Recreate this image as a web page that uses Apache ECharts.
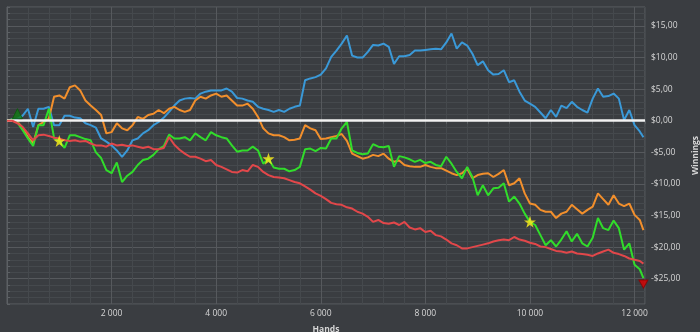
<!DOCTYPE html>
<html>
<head>
<meta charset="utf-8">
<script src="https://cdn.jsdelivr.net/npm/echarts@6/dist/echarts.min.js"></script>
<style>
html,body{margin:0;padding:0;background:#3a3d41;}
#chart{width:700px;height:332px;}
</style>
</head>
<body>
<div id="chart"></div>
<script>
// Hands (x values)
var hands = [0,100,200,300,400,500,600,700,800,900,1000,1100,1200,1300,1400,1500,1600,1700,1800,1900,
2000,2100,2200,2300,2400,2500,2600,2700,2800,2900,3000,3100,3200,3300,3400,3500,3600,3700,3800,3900,
4000,4100,4200,4300,4400,4500,4600,4700,4800,4900,5000,5100,5200,5300,5400,5500,5600,5700,5800,5900,
6000,6100,6200,6300,6400,6500,6600,6700,6800,6900,7000,7100,7200,7300,7400,7500,7600,7700,7800,7900,
8000,8100,8200,8300,8400,8500,8600,8700,8800,8900,9000,9100,9200,9300,9400,9500,9600,9700,9800,9900,
10000,10100,10200,10300,10400,10500,10600,10700,10800,10900,11000,11100,11200,11300,11400,11500,11600,11700,11800,11900,
12000,12100,12170];

var blueSeries = [0,0.2,0.3,0.8,1.9,-1.0,1.9,1.9,2.2,-0.7,-0.7,0.8,0.8,0.5,0.4,-0.4,-0.7,-1.1,-2.8,-3.3,
-3.9,-4.7,-5.7,-4.7,-3.1,-2.8,-2.0,-1.5,-0.7,-0.2,0.5,1.4,2.4,3.2,3.5,3.6,3.5,4.3,4.6,4.8,
4.8,4.8,5.1,4.6,3.6,3.5,3.2,3.0,2.2,1.9,1.7,1.4,1.7,1.4,1.9,2.2,2.4,6.4,6.7,6.9,
7.3,8.3,10.1,11.1,12.2,13.5,10.3,10.0,10.0,10.9,12.0,11.9,12.2,11.7,9.0,10.2,10.2,10.4,11.1,11.1,
11.2,11.3,11.4,11.3,12.4,13.8,11.4,12.4,11.9,10.6,8.8,9.4,8.0,7.3,7.4,8.0,6.1,6.4,4.6,3.2,
2.7,2.2,1.3,0.4,1.7,0.6,2.4,2.0,3.0,2.2,1.7,1.3,3.5,5.1,3.8,3.9,4.3,3.5,0.1,1.7,
-0.7,-1.7,-2.6];

var orangeSeries = [0,0,-0.2,-1.1,-2.6,-3.6,-0.7,-0.2,0.3,3.8,4.0,3.5,5.3,5.6,4.8,3.2,2.4,1.7,0.9,-2.0,
-1.8,-0.4,-1.2,-1.5,-0.7,0.6,0.3,0.9,1.1,1.7,1.2,1.9,2.2,1.7,1.4,1.7,3.2,3.8,3.5,4.0,
4.3,3.8,4.0,3.2,2.4,2.4,2.7,1.9,0.6,-1.2,-2.0,-2.3,-2.3,-2.6,-3.1,-3.0,-2.8,-0.7,-1.2,-1.5,
-2.9,-2.8,-2.6,-2.4,-2.1,-3.2,-5.2,-5.6,-6.0,-5.8,-5.4,-5.6,-5.2,-6.0,-6.5,-6.3,-7.0,-7.2,-7.3,-7.3,
-7.0,-7.3,-7.5,-7.5,-7.9,-8.3,-8.6,-8.3,-7.6,-9.1,-8.6,-8.4,-8.3,-8.9,-8.4,-7.8,-10.2,-9.9,-9.1,-11.5,
-13.1,-13.3,-14.1,-14.4,-14.4,-15.4,-14.7,-14.4,-13.3,-14.0,-14.7,-14.1,-13.6,-11.5,-12.4,-13.3,-11.8,-13.1,-13.5,-13.1,
-14.9,-15.7,-17.3];

var greenSeries = [0,0.2,-0.3,-1.5,-2.8,-4.0,-0.7,-0.7,1.9,-2.7,-3.2,-4.3,-2.3,-2.3,-2.6,-2.9,-3.1,-5.0,-5.9,-7.8,
-8.3,-6.6,-9.7,-8.7,-8.1,-7.0,-6.2,-6.0,-5.4,-4.5,-4.0,-2.2,-2.8,-2.8,-2.6,-3.1,-2.0,-2.6,-3.1,-1.8,
-2.3,-2.6,-2.8,-3.9,-4.9,-4.7,-4.7,-4.1,-4.7,-6.8,-6.0,-7.4,-7.6,-7.6,-8.0,-7.8,-7.3,-4.5,-4.4,-4.8,
-4.3,-4.4,-2.8,-2.8,-1.2,-0.2,-4.7,-5.1,-5.3,-5.2,-3.7,-4.1,-4.2,-4.0,-7.3,-5.6,-5.8,-6.1,-6.5,-6.2,
-6.7,-6.5,-7.0,-7.2,-5.7,-6.8,-8.1,-9.1,-7.3,-8.9,-11.8,-10.2,-11.8,-10.7,-10.6,-9.9,-12.8,-12.0,-13.1,-14.7,
-16.0,-16.5,-18.1,-19.7,-18.9,-19.9,-18.8,-17.5,-19.1,-17.9,-19.4,-19.9,-18.5,-15.4,-17.0,-17.3,-15.8,-17.0,-20.4,-19.4,
-22.8,-23.5,-24.9];

var redSeries = [0,0,-0.4,-1.0,-2.0,-3.1,-2.3,-2.2,-2.4,-2.7,-2.8,-3.1,-3.2,-3.1,-3.3,-3.2,-3.6,-3.9,-3.9,-4.1,
-3.6,-3.9,-3.8,-4.0,-3.9,-4.1,-4.3,-4.1,-4.5,-4.5,-4.3,-2.6,-3.8,-4.6,-5.2,-5.7,-5.7,-6.0,-6.4,-6.2,
-7.0,-7.3,-7.7,-8.1,-8.2,-7.8,-8.0,-7.0,-7.3,-8.1,-8.6,-8.9,-9.0,-9.1,-9.4,-9.7,-9.9,-10.4,-10.9,-11.5,
-11.9,-12.4,-13.0,-13.2,-13.3,-13.7,-13.9,-14.4,-14.7,-15.2,-16.0,-15.7,-16.2,-16.3,-16.1,-16.5,-16.0,-16.9,-17.2,-17.0,
-17.6,-17.4,-18.1,-18.3,-18.8,-19.4,-19.7,-20.2,-20.2,-20.0,-19.8,-19.6,-19.4,-19.1,-18.9,-18.8,-18.9,-18.4,-18.8,-19.0,
-19.3,-19.5,-19.9,-20.0,-20.3,-20.6,-20.7,-20.9,-20.7,-21.0,-21.1,-21.2,-21.4,-21.0,-20.7,-20.4,-20.9,-21.1,-21.4,-21.8,
-22.0,-22.2,-22.6];

// Milestone stars on the green series (hands)
var starHands = [1000, 5000, 10000];
// Triangle markers on the green series (hand index)
var upMarkerIndex = 2;
var downMarkerIndex = hands.length - 1;

var xMin = 0, xMax = 12200, xStep = 400;
var yMin = -29, yMax = 18, yStep = 1;

var bg = '#3a3d41';
var minorGrid = '#45494d';
var majorGrid = '#56595d';
var textColor = '#d6d6d6';
var fontFam = '"Open Sans", "DejaVu Sans", sans-serif';

function pairs(arr) {
  return hands.map(function (h, i) { return [h, arr[i]]; });
}
function fmtHands(v) {
  return String(v).replace(/\B(?=(\d{3})+(?!\d))/g, ' ');
}
function fmtMoney(v) {
  return (v < 0 ? '-' : '') + '$' + Math.abs(v) + ',00';
}

var starData = starHands.map(function (h) {
  var i = hands.indexOf(h);
  return [h, greenSeries[i]];
});

var chart = echarts.init(document.getElementById('chart'), null, {renderer: 'canvas'});
chart.setOption({
  backgroundColor: bg,
  animation: false,
  grid: {
    left: 7, top: 7, right: 55, bottom: 28,
    outerBoundsMode: 'none', containLabel: false,
    show: true, borderColor: '#5c6064', borderWidth: 1, backgroundColor: 'transparent'
  },
  xAxis: {
    type: 'value', min: xMin, max: xMax, interval: xStep,
    name: 'Hands', nameLocation: 'middle', nameGap: 21,
    nameTextStyle: {color: textColor, fontFamily: fontFam, fontSize: 8.5, fontWeight: 'bold'},
    axisLine: {show: true, lineStyle: {color: '#5c6064'}},
    axisTick: {show: true, length: 3, lineStyle: {color: '#5c6064'}},
    axisLabel: {
      interval: 0, color: textColor, fontFamily: fontFam, fontSize: 8.5, margin: 5,
      formatter: function (v) { return (v > 0 && v % 2000 === 0) ? fmtHands(v) : ''; }
    },
    splitLine: {show: true, lineStyle: {color: [majorGrid, minorGrid, minorGrid, minorGrid, minorGrid], width: 1}}
  },
  yAxis: {
    type: 'value', position: 'right', min: yMin, max: yMax, interval: yStep,
    name: 'Winnings', nameLocation: 'middle', nameGap: 42, nameRotate: 90,
    nameTextStyle: {color: textColor, fontFamily: fontFam, fontSize: 8.5, fontWeight: 'bold'},
    axisLine: {show: true, lineStyle: {color: '#5c6064'}},
    axisTick: {show: true, length: 3, lineStyle: {color: '#5c6064'}},
    axisLabel: {
      interval: 0, color: textColor, fontFamily: fontFam, fontSize: 8.5, margin: 6,
      formatter: function (v) { return (Math.round(v) % 5 === 0) ? fmtMoney(Math.round(v)) : ''; }
    },
    splitLine: {show: true, lineStyle: {color: [minorGrid, minorGrid, minorGrid, minorGrid, majorGrid], width: 1}}
  },
  series: [
    {type: 'line', name: 'blue', data: pairs(blueSeries), showSymbol: false, symbol: 'none',
     lineStyle: {color: '#3a99d8', width: 2}, z: 2},
    {type: 'line', name: 'orange', data: pairs(orangeSeries), showSymbol: false, symbol: 'none',
     lineStyle: {color: '#f28f2c', width: 2}, z: 3},
    {type: 'line', name: 'green', data: pairs(greenSeries), showSymbol: false, symbol: 'none',
     lineStyle: {color: '#31dc2b', width: 2}, z: 4},
    {type: 'line', name: 'red', data: pairs(redSeries), showSymbol: false, symbol: 'none',
     lineStyle: {color: '#e2474a', width: 2}, z: 5},
    {type: 'line', name: 'zero', data: [], z: 8,
     markLine: {silent: true, symbol: 'none', label: {show: false},
       lineStyle: {color: '#f2f2f2', width: 2.5, type: 'solid'},
       data: [{yAxis: 0}]}},
    {type: 'scatter', name: 'stars', data: starData, symbol: 'path://M50,0 L61.8,35.1 L98.1,35.1 L68.8,56.8 L79.4,91.0 L50,70 L20.6,91.0 L31.2,56.8 L1.9,35.1 L38.2,35.1 Z',
     symbolSize: 12, itemStyle: {color: '#fff21a'}, z: 10},
    {type: 'scatter', name: 'up', data: [[hands[upMarkerIndex], greenSeries[upMarkerIndex]]],
     symbol: 'triangle', symbolSize: [10, 10], symbolOffset: [0, -9],
     itemStyle: {color: '#0f7d14', borderColor: '#0a5a0d', borderWidth: 1}, z: 10},
    {type: 'scatter', name: 'down', data: [[hands[downMarkerIndex], greenSeries[downMarkerIndex]]],
     symbol: 'triangle', symbolRotate: 180, symbolSize: [9, 8], symbolOffset: [0, 6],
     itemStyle: {color: '#e00000', borderColor: '#8a0000', borderWidth: 1}, z: 10}
  ]
});
</script>
</body>
</html>
